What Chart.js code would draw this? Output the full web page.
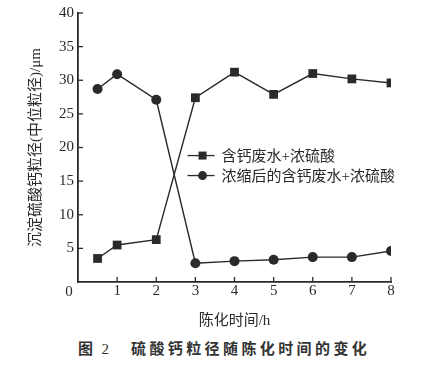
<!DOCTYPE html>
<html><head><meta charset="utf-8">
<script src="https://cdn.jsdelivr.net/npm/chart.js@4/dist/chart.umd.min.js"></script>
<style>
html,body{margin:0;padding:0;background:#fff;}
#wrap{position:relative;width:443px;height:367px;background:#fff;}
#c{position:absolute;left:0;top:0;}
#cap{position:absolute;left:78px;top:337px;height:20px;line-height:20px;font:bold 15px "Noto Sans CJK SC";color:#333;white-space:nowrap;}
#cap .n{font-family:"Liberation Serif";font-weight:normal;margin-left:8.5px;}
#cap .t{margin-left:22px;letter-spacing:3.4px;}
</style></head>
<body><div id="wrap"><canvas id="c" width="443" height="330"></canvas><div id="cap"><span>图</span><span class="n">2</span><span class="t">硫酸钙粒径随陈化时间的变化</span></div></div>
<script>
const times = [0.5, 1, 2, 3, 4, 5, 6, 7, 8];
const seriesA = [3.5, 5.5, 6.3, 27.4, 31.2, 27.9, 31.0, 30.2, 29.6];   // 含钙废水+浓硫酸
const seriesB = [28.7, 30.9, 27.1, 2.8, 3.1, 3.3, 3.7, 3.7, 4.6];     // 浓缩后的含钙废水+浓硫酸
const labels = ['含钙废水+浓硫酸', '浓缩后的含钙废水+浓硫酸'];
const xTicks = [0, 1, 2, 3, 4, 5, 6, 7, 8];
const yTicks = [0, 5, 10, 15, 20, 25, 30, 35, 40];

const serif = '"Liberation Serif", "Noto Sans CJK SC"';
const cjk = '"Liberation Serif", "Noto Sans CJK SC"';
const ink = '#2a2a2a';

const toXY = arr => arr.map((v, i) => ({x: times[i], y: v}));

const extras = {
  id: 'extras',
  afterDraw(chart) {
    const ctx = chart.ctx, x = chart.scales.x, y = chart.scales.y, a = chart.chartArea;
    ctx.save();
    const L = a.left, B = a.bottom;
    ctx.strokeStyle = ink; ctx.lineWidth = 1.3;
    xTicks.forEach(v => { if (v === 0) return; const px = x.getPixelForValue(v);
      ctx.beginPath(); ctx.moveTo(px, B); ctx.lineTo(px, B - 5); ctx.stroke(); });
    yTicks.forEach(v => { if (v === 0) return; const py = y.getPixelForValue(v);
      ctx.beginPath(); ctx.moveTo(L, py); ctx.lineTo(L + 5, py); ctx.stroke(); });
    ctx.fillStyle = ink; ctx.font = '15px ' + serif; ctx.textAlign = 'center'; ctx.textBaseline = 'middle';
    ctx.fillText(String(yTicks[0]), L - 9, B + 10);
    // legend
    const lx = x.getPixelForValue(2.8), ly0 = y.getPixelForValue(18.8), gap = 20;
    chart.data.datasets.forEach((ds, i) => {
      const yy = ly0 + i * gap;
      ctx.strokeStyle = ink; ctx.lineWidth = 1.3;
      ctx.beginPath(); ctx.moveTo(lx, yy); ctx.lineTo(lx + 27, yy); ctx.stroke();
      ctx.fillStyle = ink;
      if (ds.pointStyle === 'rect') { ctx.fillRect(lx + 15 - 4, yy - 4, 8, 8); }
      else { ctx.beginPath(); ctx.arc(lx + 15, yy, 4.5, 0, Math.PI * 2); ctx.fill(); }
      ctx.font = '15px ' + cjk; ctx.textAlign = 'left'; ctx.textBaseline = 'middle';
      ctx.fillText(ds.label, lx + 34, yy + 1);
    });
    ctx.restore();
  }
};

new Chart(document.getElementById('c'), {
  type: 'line',
  data: {
    datasets: [
      {label: labels[0], data: toXY(seriesA), borderColor: ink, backgroundColor: ink, borderWidth: 1.4,
       pointStyle: 'rect', pointRadius: 6.2, pointBackgroundColor: ink, pointBorderWidth: 0, tension: 0},
      {label: labels[1], data: toXY(seriesB), borderColor: ink, backgroundColor: ink, borderWidth: 1.4,
       pointStyle: 'circle', pointRadius: 5, pointBackgroundColor: ink, pointBorderWidth: 0, tension: 0}
    ]
  },
  options: {
    responsive: false, animation: false,
    layout: {padding: {top: 13, right: 52, left: 27, bottom: 0}},
    plugins: {legend: {display: false}, tooltip: {enabled: false}},
    scales: {
      x: {type: 'linear', min: 0, max: 8,
        afterBuildTicks: s => { s.ticks = xTicks.map(v => ({value: v})); },
        ticks: {color: ink, font: {family: serif, size: 15}, padding: 0,
          callback: v => v === 0 ? '' : String(v), maxRotation: 0},
        grid: {display: false, drawTicks: false},
        border: {display: true, color: ink, width: 1.8},
        title: {display: true, text: '陈化时间/h', color: ink, font: {family: cjk, size: 15}, padding: {top: 5, bottom: 0}},
        afterFit: s => { s.height = 48; }
      },
      y: {min: 0, max: 40,
        afterBuildTicks: s => { s.ticks = yTicks.map(v => ({value: v})); },
        ticks: {color: ink, font: {family: serif, size: 15}, padding: 4,
          callback: v => v === 0 ? '' : String(v)},
        grid: {display: false, drawTicks: false},
        border: {display: true, color: ink, width: 1.8},
        title: {display: true, text: '沉淀硫酸钙粒径(中位粒径)/μm', color: ink, font: {family: cjk, size: 15}, padding: {top: 0, bottom: 0}},
        afterFit: s => { s.width = 51; }
      }
    }
  },
  plugins: [extras]
});
</script></body></html>
